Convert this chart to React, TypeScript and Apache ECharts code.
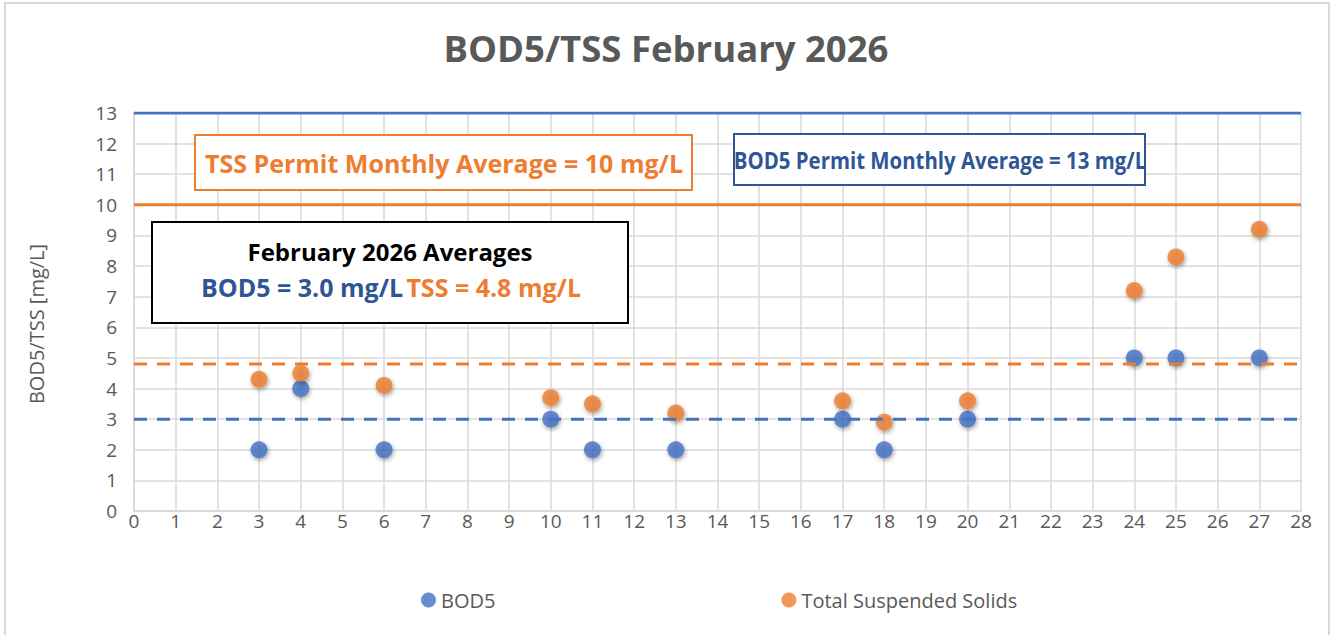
import React, { useEffect, useRef } from "react";
import * as echarts from "echarts";

const titleText = "BOD5/TSS February 2026";
const yAxisName = "BOD5/TSS [mg/L]";
const bodName = "BOD5";
const tssName = "Total Suspended Solids";

const sampleDays = [3, 4, 6, 10, 11, 13, 17, 18, 20, 24, 25, 27];
const bodValues = [2, 4, 2, 3, 2, 2, 3, 2, 3, 5, 5, 5];
const tssValues = [4.3, 4.5, 4.1, 3.7, 3.5, 3.2, 3.6, 2.9, 3.6, 7.2, 8.3, 9.2];

const bodPermit = 13;
const tssPermit = 10;
const bodAverage = 3.0;
const tssAverage = 4.8;
const xRange = [0, 28];
const yRange = [0, 13];

const BLUE = "#4472c4";
const DARK_BLUE = "#2f5597";
const ORANGE = "#ed7d31";
const GRAY_TEXT = "#595959";
const GRID = "#d9d9d9";
const FONT = "'Open Sans', 'Noto Sans', sans-serif";

export default function App() {
  const ref = useRef<HTMLDivElement>(null);

  useEffect(() => {
    if (!ref.current) return;
    const chart = echarts.init(ref.current, undefined, { renderer: "svg" });

    const shadow = {
      shadowBlur: 4,
      shadowOffsetY: 2,
      shadowOffsetX: 1,
      shadowColor: "rgba(0,0,0,0.45)",
    };

    const hLine = (name: string, value: number, color: string, dashed: boolean) => ({
      name,
      type: "line",
      data: [
        [xRange[0], value],
        [xRange[1], value],
      ],
      symbol: "none",
      z: 5,
      silent: true,
      lineStyle: {
        color,
        width: 3,
        type: dashed ? [13, 10] : "solid",
      },
    });

    const option = {
      animation: false,
      backgroundColor: "#ffffff",
      textStyle: { fontFamily: FONT },
      title: {
        text: titleText,
        left: "center",
        top: 24,
        textStyle: {
          color: GRAY_TEXT,
          fontSize: 36.5,
          fontWeight: "bold",
          fontFamily: FONT,
        },
      },
      legend: {
        data: [bodName, tssName],
        left: 416,
        top: 585,
        icon: "circle",
        itemWidth: 15,
        itemHeight: 15,
        itemGap: 286,
        textStyle: { color: GRAY_TEXT, fontSize: 20, fontFamily: FONT },
      },
      grid: {
        left: 134,
        right: 31,
        top: 113,
        bottom: 124,
        containLabel: false,
      },
      xAxis: {
        type: "value",
        min: xRange[0],
        max: xRange[1],
        interval: 1,
        axisLine: { show: true, lineStyle: { color: GRID, width: 2 } },
        axisTick: { show: false },
        axisLabel: { color: GRAY_TEXT, fontSize: 19, margin: 0, fontFamily: FONT },
        splitLine: { show: true, lineStyle: { color: GRID, width: 1.5 } },
      },
      yAxis: {
        type: "value",
        min: yRange[0],
        max: yRange[1],
        interval: 1,
        name: yAxisName,
        nameLocation: "middle",
        nameGap: 88,
        nameTextStyle: {
          color: GRAY_TEXT,
          fontSize: 20,
          fontFamily: FONT,
          padding: [0, 24, 0, 0],
        },
        axisLine: { show: true, lineStyle: { color: GRID, width: 2 } },
        axisTick: { show: false },
        axisLabel: { color: GRAY_TEXT, fontSize: 19, margin: 17, fontFamily: FONT },
        splitLine: { show: true, lineStyle: { color: GRID, width: 1.5 } },
      },
      series: [
        {
          name: bodName,
          type: "scatter",
          data: sampleDays.map((d, i) => [d, bodValues[i]]),
          symbolSize: 17,
          z: 3,
          itemStyle: { color: BLUE, ...shadow },
        },
        {
          name: tssName,
          type: "scatter",
          data: sampleDays.map((d, i) => [d, tssValues[i]]),
          symbolSize: 17,
          z: 3,
          itemStyle: { color: ORANGE, ...shadow },
        },
        hLine("bodPermit", bodPermit, BLUE, false),
        hLine("tssPermit", tssPermit, ORANGE, false),
        hLine("bodAvg", bodAverage, BLUE, true),
        hLine("tssAvg", tssAverage, ORANGE, true),
      ],
      graphic: [
        {
          type: "rect",
          shape: { x: 5, y: 3, width: 1324, height: 650 },
          style: { fill: "none", stroke: GRID, lineWidth: 2 },
          silent: true,
          z: 0,
        },
        {
          type: "rect",
          shape: { x: 195, y: 135, width: 497, height: 55 },
          style: { fill: "#ffffff", stroke: ORANGE, lineWidth: 2 },
          z: 10,
        },
        {
          type: "text",
          x: 444,
          y: 163,
          z: 11,
          style: {
            text: "TSS Permit Monthly Average = 10 mg/L",
            fill: ORANGE,
            font: `bold 25px ${FONT}`,
            textAlign: "center",
            textVerticalAlign: "middle",
          },
        },
        {
          type: "rect",
          shape: { x: 734, y: 134, width: 411, height: 51 },
          style: { fill: "#ffffff", stroke: DARK_BLUE, lineWidth: 2 },
          z: 10,
        },
        {
          type: "text",
          x: 940,
          y: 160,
          scaleX: 0.85,
          z: 11,
          style: {
            text: "BOD5 Permit Monthly Average = 13 mg/L",
            fill: DARK_BLUE,
            font: `bold 24px ${FONT}`,
            textAlign: "center",
            textVerticalAlign: "middle",
          },
        },
        {
          type: "rect",
          shape: { x: 152, y: 222, width: 476, height: 101 },
          style: { fill: "#ffffff", stroke: "#000000", lineWidth: 2 },
          z: 10,
        },
        {
          type: "text",
          x: 390,
          y: 251,
          z: 11,
          style: {
            text: "February 2026 Averages",
            fill: "#000000",
            font: `bold 24px ${FONT}`,
            textAlign: "center",
            textVerticalAlign: "middle",
          },
        },
        {
          type: "text",
          x: 391,
          y: 287,
          z: 11,
          style: {
            text: `{b|BOD5 = ${bodAverage.toFixed(1)} mg/L} {o|TSS = ${tssAverage.toFixed(1)} mg/L}`,
            textAlign: "center",
            textVerticalAlign: "middle",
            rich: {
              b: { fill: DARK_BLUE, font: `bold 25px ${FONT}` },
              o: { fill: ORANGE, font: `bold 25px ${FONT}` },
            },
          },
        },
      ],
    };

    chart.setOption(option as any);
    return () => chart.dispose();
  }, []);

  return (
    <div
      ref={ref}
      style={{ position: "absolute", left: 0, top: 0, width: 1332, height: 635 }}
    />
  );
}
